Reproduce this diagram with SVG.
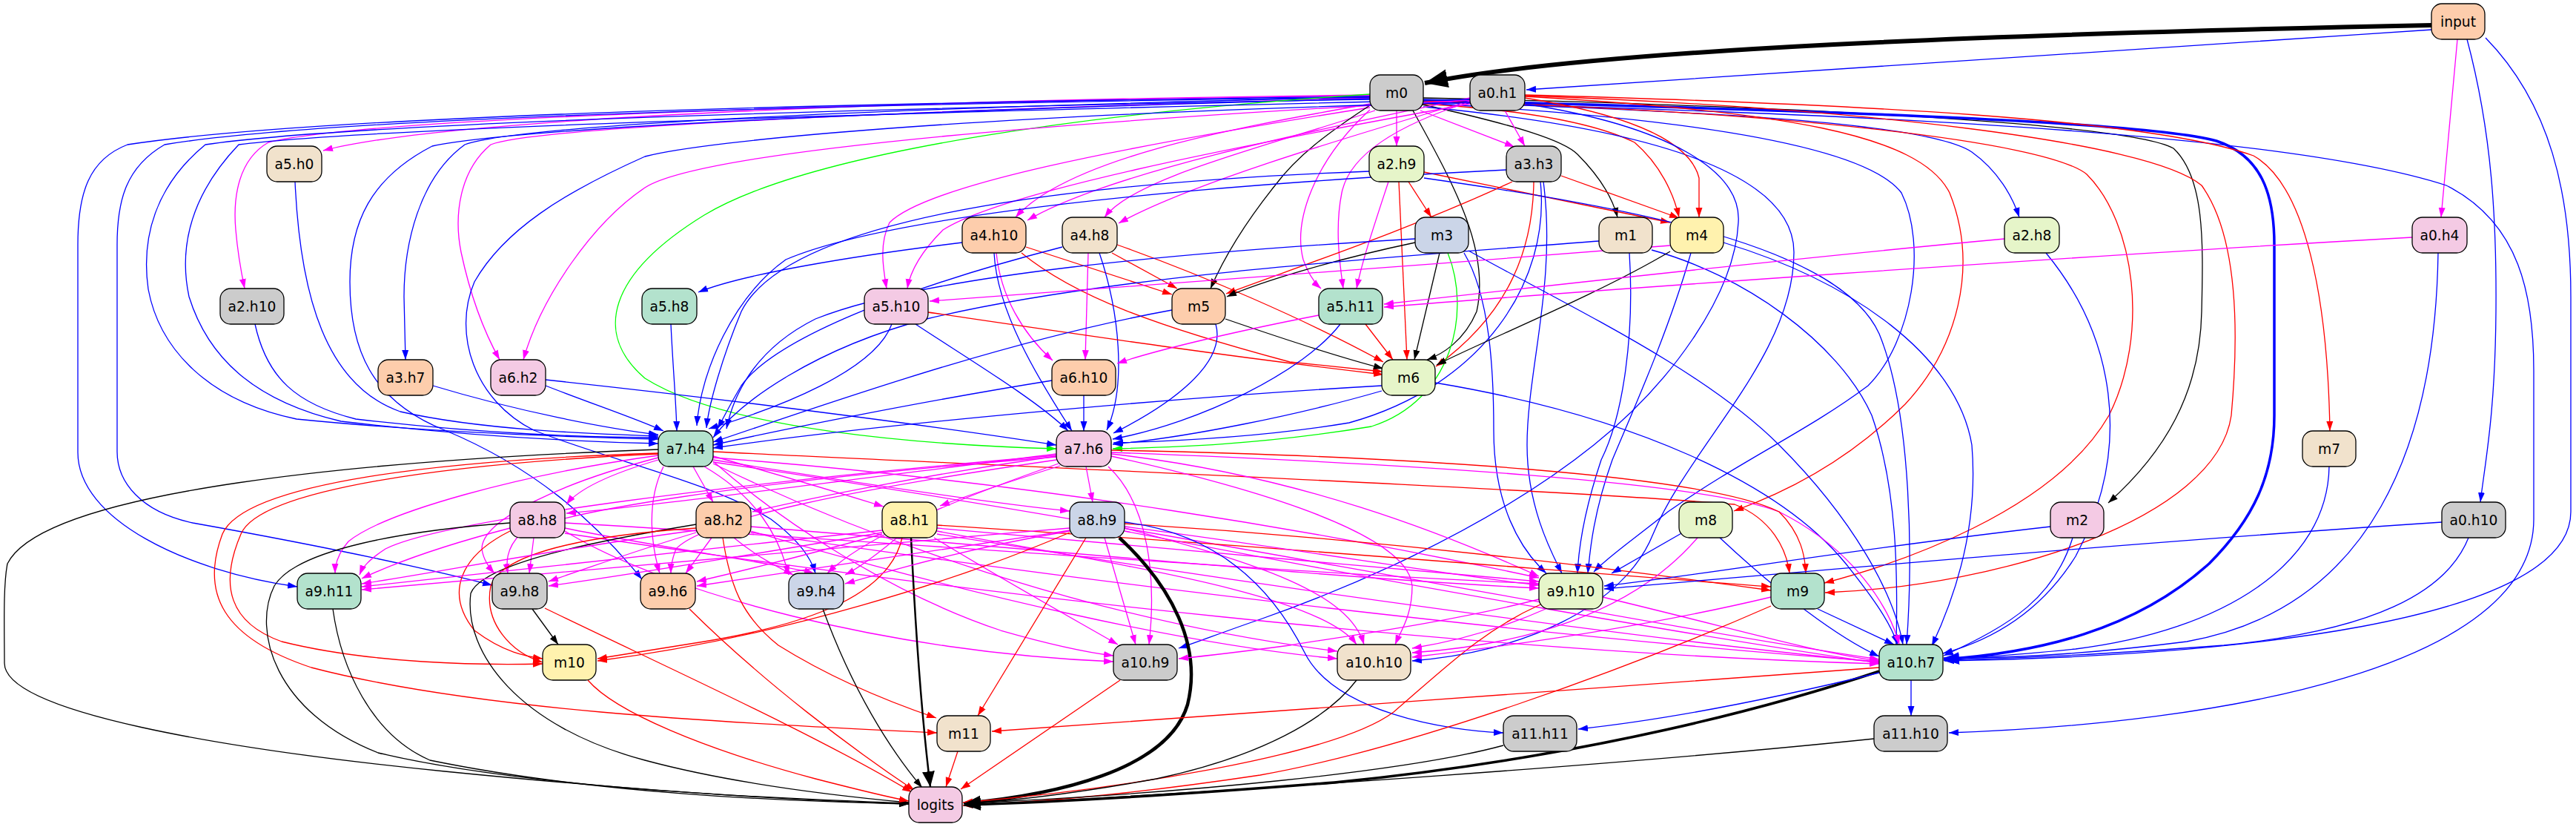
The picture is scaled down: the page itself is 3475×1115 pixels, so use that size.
<svg xmlns="http://www.w3.org/2000/svg" width="3475" height="1115" viewBox="0 0 3475 1115">
<defs>
<marker id="ak" markerUnits="userSpaceOnUse" markerWidth="14" markerHeight="10" refX="13" refY="5" orient="auto"><path d="M0,0.5 L13,5 L0,9.5 z" fill="#000"/></marker>
<marker id="ab" markerUnits="userSpaceOnUse" markerWidth="14" markerHeight="10" refX="13" refY="5" orient="auto"><path d="M0,0.5 L13,5 L0,9.5 z" fill="#00f"/></marker>
<marker id="ar" markerUnits="userSpaceOnUse" markerWidth="14" markerHeight="10" refX="13" refY="5" orient="auto"><path d="M0,0.5 L13,5 L0,9.5 z" fill="#f00"/></marker>
<marker id="am" markerUnits="userSpaceOnUse" markerWidth="14" markerHeight="10" refX="13" refY="5" orient="auto"><path d="M0,0.5 L13,5 L0,9.5 z" fill="#f0f"/></marker>
<marker id="ag" markerUnits="userSpaceOnUse" markerWidth="14" markerHeight="10" refX="13" refY="5" orient="auto"><path d="M0,0.5 L13,5 L0,9.5 z" fill="#0f0"/></marker>
<marker id="akM" markerUnits="userSpaceOnUse" markerWidth="22" markerHeight="18" refX="21" refY="9" orient="auto"><path d="M0,0.5 L21,9 L0,17.5 z" fill="#000"/></marker>
<marker id="akL" markerUnits="userSpaceOnUse" markerWidth="32" markerHeight="26" refX="31" refY="13" orient="auto"><path d="M0,0.5 L31,13 L0,25.5 z" fill="#000"/></marker>
<marker id="abM" markerUnits="userSpaceOnUse" markerWidth="22" markerHeight="18" refX="21" refY="9" orient="auto"><path d="M0,0.5 L21,9 L0,17.5 z" fill="#00f"/></marker>
</defs>
<style>
.e path{fill:none;stroke-width:1.3}
.k{stroke:#000;marker-end:url(#ak)}
.b{stroke:#00f;marker-end:url(#ab)}
.r{stroke:#f00;marker-end:url(#ar)}
.m{stroke:#f0f;marker-end:url(#am)}
.g{stroke:#0f0;marker-end:url(#ag)}
.e path.k6{stroke:#000;stroke-width:6;marker-end:url(#akL)}
.e path.k4{stroke:#000;stroke-width:4.5;marker-end:url(#akM)}
.e path.k3{stroke:#000;stroke-width:3.5;marker-end:url(#akM)}
.e path.k2{stroke:#000;stroke-width:2.5;marker-end:url(#akM)}
.e path.b3{stroke:#00f;stroke-width:3.5;marker-end:url(#abM)}
.n rect{stroke:#000;stroke-width:1.3}
.n text{font-family:"DejaVu Sans","Liberation Sans",sans-serif;font-size:18.67px;text-anchor:middle;fill:#000}
.gy{fill:#cccccc}.pe{fill:#fdcdac}.be{fill:#f1e2cc}.lg{fill:#e6f5c9}.bl{fill:#cbd5e8}.ye{fill:#fff2ae}.pk{fill:#f4cae4}.mi{fill:#b3e2cd}
</style>
<rect width="3475" height="1115" fill="#fff"/>
<g id="edges" class="e">
<path class="k6" d="M3280,34 C2700,46 2150,66 1922,112"/>
<path class="b" d="M3281,40 C2800,72 2300,108 2059,121"/>
<path class="m" d="M3315,53 L3293,293"/>
<path class="b" d="M3328,53 C3362,180 3368,300 3367,420 C3366,560 3352,625 3346,677"/>
<path class="b" d="M3353,51 C3440,140 3468,260 3468,400 L3468,690 C3468,840 3000,885 2623,891"/>
<path class="m" d="M1884,149 L1884,197"/>
<path class="m" d="M1916,149 L2043,198"/>
<path class="m" d="M1848,128 C1200,135 600,160 436,203"/>
<path class="m" d="M1848,129 C1200,138 500,158 362,192 C322,215 314,265 318,310 C321,345 326,370 330,389"/>
<path class="b" d="M1848,131 C1200,145 700,168 627,195 C565,240 545,330 545,400 L547,485"/>
<path class="m" d="M1848,132 C1200,150 720,172 662,195 C620,230 612,290 622,340 C638,415 660,460 674,485"/>
<path class="m" d="M1848,140 C1650,175 1440,215 1370,293"/>
<path class="m" d="M1855,149 C1700,200 1530,240 1490,293"/>
<path class="m" d="M1848,145 C1500,200 1250,250 1200,300 C1185,330 1192,365 1196,389"/>
<path class="m" d="M1848,148 C1770,220 1745,300 1758,350 C1766,372 1775,383 1782,389"/>
<path class="k" d="M1919,141 C2050,170 2110,190 2128,208 C2160,240 2176,270 2182,293"/>
<path class="r" d="M1920,140 C2050,148 2150,165 2205,192 C2240,222 2258,262 2265,293"/>
<path class="b" d="M1920,137 C2300,150 2600,165 2660,205 C2695,230 2715,265 2724,293"/>
<path class="k" d="M1848,142 C1790,180 1750,210 1720,250 C1680,300 1650,350 1633,389"/>
<path class="k" d="M1906,149 C1965,255 2010,340 1992,420 C1975,460 1945,478 1925,485"/>
<path class="b" d="M1848,134 C1200,145 480,165 277,195 C210,250 190,320 200,390 C215,470 280,540 400,565 C600,585 800,590 888,592"/>
<path class="b" d="M1848,130 C1000,140 400,160 172,195 C120,215 105,260 105,330 L105,610 C105,700 250,770 401,791"/>
<path class="b" d="M1848,131 C1000,142 420,162 222,195 C170,225 158,270 158,330 L158,609 C158,650 190,690 260,705 C400,730 550,760 664,789"/>
<path class="b" d="M1848,133 C1200,150 700,172 583,197 C500,240 472,300 472,380 C472,470 500,540 600,580 C720,630 800,700 866,781"/>
<path class="g" d="M1848,127 C1500,150 1100,200 950,290 C820,370 800,450 870,510 C980,580 1250,600 1425,605"/>
<path class="k" d="M1920,132 C2500,145 2880,170 2932,200 C2975,240 2972,330 2970,420 C2968,530 2920,610 2844,678"/>
<path class="b3" d="M1920,135 C2500,150 2900,165 2990,190 C3050,210 3068,260 3068,330 L3068,560 C3068,640 3040,700 2980,760 C2880,850 2750,880 2622,889"/>
<path class="b" d="M1920,138 C2600,155 3100,185 3300,250 C3400,300 3418,400 3418,500 L3418,700 C3418,900 3000,975 2629,988"/>
<path class="r" d="M1920,136 C2400,150 2760,190 2815,235 C2880,300 2900,450 2845,560 C2770,690 2560,760 2461,786"/>
<path class="b" d="M1920,139 C2300,160 2520,200 2565,260 C2600,330 2580,460 2520,520 C2440,580 2350,620 2250,690 C2200,730 2170,750 2150,771"/>
<path class="b" d="M1920,144 C2250,175 2420,240 2420,340 C2420,480 2280,600 2230,720 C2190,820 2050,880 1905,891"/>
<path class="m" d="M2030,149 L2057,197"/>
<path class="m" d="M1983,132 C1800,170 1500,230 1386,297"/>
<path class="m" d="M1983,136 C1800,190 1600,250 1509,301"/>
<path class="m" d="M1983,140 C1650,200 1350,260 1272,310 C1242,340 1228,365 1224,389"/>
<path class="m" d="M1984,137 C1880,170 1820,210 1810,260 C1800,310 1808,360 1812,389"/>
<path class="m" d="M1983,135 C1500,160 950,200 870,253 C800,300 730,400 706,485"/>
<path class="r" d="M2057,132 C2200,155 2280,190 2292,240 L2292,293"/>
<path class="b" d="M1983,134 C1300,150 520,170 322,195 C260,260 240,330 255,400 C280,480 340,540 460,568 C650,590 800,596 888,598"/>
<path class="b" d="M1983,138 C1300,155 950,190 870,211 C760,260 680,310 640,380 C610,450 640,540 720,580 C820,620 960,650 1040,700 C1080,730 1095,755 1100,773"/>
<path class="r" d="M2057,128 C2500,140 2900,160 3040,210 C3110,250 3140,400 3143,581"/>
<path class="r" d="M2057,130 C2400,150 2590,180 2630,260 C2670,360 2640,470 2570,545 C2500,615 2420,660 2339,689"/>
<path class="r" d="M2057,129 C2500,145 2900,190 2970,250 C3020,320 3020,450 3010,560 C2990,700 2700,790 2462,799"/>
<path class="b" d="M2057,140 C2250,170 2350,230 2345,300 C2340,400 2250,520 2150,600 C2000,720 1800,800 1700,835 C1650,852 1615,866 1590,874"/>
<path class="r" d="M1900,245 L1931,293"/>
<path class="r" d="M1921,232 L2253,300"/>
<path class="m" d="M1873,245 C1855,300 1838,350 1830,389"/>
<path class="r" d="M1887,245 L1898,485"/>
<path class="b" d="M1847,231 C1400,248 1060,300 1000,420 C975,480 956,545 953,577"/>
<path class="b" d="M1921,240 C2200,280 2480,330 2535,450 C2580,560 2580,760 2572,869"/>
<path class="r" d="M2106,237 L2265,294"/>
<path class="r" d="M2040,245 C1900,310 1750,360 1654,396"/>
<path class="r" d="M2069,245 C2068,330 2040,420 1937,494"/>
<path class="b" d="M2032,229 C1600,250 1200,290 1060,350 C990,400 945,500 940,574"/>
<path class="b" d="M2078,245 C2092,380 2000,520 1820,570 C1700,590 1580,595 1502,597"/>
<path class="b" d="M2082,245 C2100,380 2060,500 2060,600 C2060,680 2090,740 2107,773"/>
<path class="b" d="M1298,327 C1150,345 1000,370 942,394"/>
<path class="m" d="M1344,341 C1350,400 1380,450 1420,486"/>
<path class="r" d="M1384,333 L1581,397"/>
<path class="r" d="M1378,341 C1450,400 1560,440 1740,488 L1865,501"/>
<path class="b" d="M1341,341 C1345,420 1400,510 1446,581"/>
<path class="m" d="M1468,341 L1464,485"/>
<path class="r" d="M1500,341 L1588,389"/>
<path class="r" d="M1507,330 C1620,370 1760,430 1866,488"/>
<path class="b" d="M1433,333 C1250,380 1050,450 1000,520 C985,545 975,565 968,578"/>
<path class="b" d="M1483,341 C1510,420 1520,520 1493,580"/>
<path class="k" d="M1909,327 C1800,350 1700,380 1655,400"/>
<path class="k" d="M1942,341 L1908,485"/>
<path class="g" d="M1953,341 C1985,420 1960,540 1850,575 C1700,600 1580,603 1501,605"/>
<path class="b" d="M1909,322 C1600,340 1250,370 1100,430 C1020,470 990,530 980,578"/>
<path class="b" d="M1975,341 C2010,400 2015,500 2015,580 C2015,680 2050,740 2086,773"/>
<path class="b" d="M1981,338 C2130,420 2300,500 2400,600 C2500,700 2555,800 2567,869"/>
<path class="b" d="M2157,325 C1900,345 1500,370 1250,430 C1100,470 1000,540 962,590"/>
<path class="b" d="M2198,341 C2205,450 2190,560 2160,620 C2140,680 2130,730 2128,773"/>
<path class="b" d="M2228,337 C2350,370 2480,460 2525,560 C2560,660 2560,780 2558,869"/>
<path class="m" d="M2253,331 C1900,360 1450,390 1254,406"/>
<path class="k" d="M2253,339 C2150,400 2000,460 1938,492"/>
<path class="b" d="M2281,341 C2250,450 2200,560 2175,620 C2150,690 2145,740 2142,773"/>
<path class="b" d="M2325,327 C2500,380 2640,480 2660,600 C2670,720 2630,820 2606,871"/>
<path class="m" d="M2704,322 C2400,350 2000,395 1867,410"/>
<path class="b" d="M2760,341 C2850,450 2880,600 2800,750 C2750,830 2680,865 2621,881"/>
<path class="m" d="M3254,320 C2800,345 2100,395 1867,414"/>
<path class="b" d="M3289,341 C3285,600 3200,820 2950,865 C2800,884 2700,887 2622,888"/>
<path class="b" d="M398,245 C405,400 440,520 540,555 C650,580 800,585 888,588"/>
<path class="b" d="M344,437 C360,510 400,545 480,565 C650,585 800,590 888,590"/>
<path class="b" d="M905,437 C908,500 912,540 913,581"/>
<path class="b" d="M1203,437 C1180,500 1050,550 956,578"/>
<path class="r" d="M1252,421 C1450,450 1650,480 1866,505"/>
<path class="b" d="M1235,437 C1300,480 1400,540 1441,581"/>
<path class="k" d="M1653,430 C1740,460 1820,485 1866,497"/>
<path class="b" d="M1581,418 C1350,460 1100,550 962,596"/>
<path class="b" d="M1640,437 C1655,490 1580,545 1502,584"/>
<path class="m" d="M1779,425 C1650,450 1550,475 1507,490"/>
<path class="r" d="M1842,437 L1879,485"/>
<path class="b" d="M1808,437 C1760,500 1620,570 1501,592"/>
<path class="b" d="M584,520 C700,555 820,578 888,586"/>
<path class="b" d="M736,520 C800,545 860,565 895,581"/>
<path class="b" d="M736,512 C1000,540 1300,580 1425,600"/>
<path class="b" d="M1419,513 C1250,540 1050,580 962,600"/>
<path class="b" d="M1462,533 L1462,581"/>
<path class="b" d="M1864,520 C1600,535 1200,570 962,604"/>
<path class="b" d="M1864,527 C1750,560 1600,590 1501,599"/>
<path class="b" d="M1936,516 C2200,560 2400,650 2490,760 C2530,810 2550,840 2560,869"/>
<path class="k" d="M888,606 C500,620 60,660 10,760 C4,790 6,850 6,894 C6,960 300,1010 600,1040 C900,1070 1100,1080 1226,1084"/>
<path class="r" d="M888,612 C600,625 350,660 325,720 C295,790 310,840 380,865 C500,895 650,897 732,895"/>
<path class="r" d="M888,611 C600,620 330,650 300,720 C270,800 300,860 420,900 C650,960 1000,975 1264,988"/>
<path class="r" d="M962,609 C1400,630 2100,660 2340,680 C2390,700 2410,740 2414,773"/>
<path class="m" d="M888,620 C820,640 780,660 764,680"/>
<path class="m" d="M935,629 L962,677"/>
<path class="m" d="M962,615 C1050,640 1150,670 1192,683"/>
<path class="m" d="M962,620 C1150,650 1350,680 1443,689"/>
<path class="m" d="M888,614 C700,640 520,690 470,730 C457,745 452,760 452,773"/>
<path class="m" d="M888,617 C760,650 650,700 650,740 C652,755 660,765 667,773"/>
<path class="m" d="M895,629 C870,680 880,740 890,773"/>
<path class="m" d="M950,629 C1020,670 1050,720 1064,775"/>
<path class="m" d="M962,617 C1400,650 1800,720 2076,779"/>
<path class="m" d="M962,622 C1050,700 1200,800 1350,850 C1420,870 1470,880 1502,884"/>
<path class="m" d="M962,625 C1200,740 1500,840 1804,878"/>
<path class="m" d="M962,623 C1500,700 2200,840 2535,889"/>
<path class="m" d="M1425,612 C1200,640 900,680 764,692"/>
<path class="m" d="M1425,615 C1250,640 1100,670 1015,690"/>
<path class="m" d="M1430,628 C1360,650 1300,670 1268,682"/>
<path class="m" d="M1465,629 L1474,677"/>
<path class="m" d="M1425,614 C1000,650 600,700 520,740 C497,755 489,765 485,775"/>
<path class="m" d="M1425,616 C1000,650 750,690 702,720 C682,740 683,760 685,773"/>
<path class="m" d="M1425,620 C1150,660 950,700 912,740 C906,755 905,765 905,773"/>
<path class="m" d="M1428,625 C1300,670 1170,720 1116,773"/>
<path class="m" d="M1499,612 C1750,640 1950,720 2076,777"/>
<path class="m" d="M1495,629 C1550,680 1560,780 1550,869"/>
<path class="m" d="M1499,615 C1700,660 1900,720 1905,790 C1905,830 1890,850 1882,869"/>
<path class="m" d="M1499,610 C1900,625 2300,650 2400,690 C2500,740 2550,820 2562,869"/>
<path class="r" d="M1499,607 C1900,615 2300,640 2400,690 C2430,720 2435,750 2436,773"/>
<path class="b" d="M3142,629 C3140,760 3000,850 2800,875 C2700,885 2660,887 2622,887"/>
<path class="k" d="M688,705 C550,715 400,740 370,790 C340,850 370,960 510,1015 C700,1060 1000,1075 1226,1083"/>
<path class="r" d="M688,716 C620,750 600,800 640,850 C680,880 710,885 732,888"/>
<path class="m" d="M688,712 C600,735 530,760 488,780"/>
<path class="m" d="M720,725 L714,773"/>
<path class="m" d="M762,712 C900,740 1050,760 1098,773"/>
<path class="m" d="M762,705 C1200,730 1700,770 2076,787"/>
<path class="m" d="M762,716 C900,800 1200,880 1502,892"/>
<path class="m" d="M762,719 C1300,800 2000,880 2535,895"/>
<path class="k" d="M939,707 C800,730 650,760 635,800 C625,880 700,980 870,1025 C1000,1060 1150,1075 1226,1082"/>
<path class="r" d="M939,712 C820,720 680,740 662,790 C652,840 690,880 732,893"/>
<path class="r" d="M975,725 C985,790 1000,830 1050,870 C1130,920 1210,950 1263,968"/>
<path class="m" d="M939,715 C750,740 600,770 488,787"/>
<path class="m" d="M939,718 C850,745 780,770 740,784"/>
<path class="m" d="M960,725 L925,773"/>
<path class="m" d="M990,725 C1020,750 1050,765 1070,775"/>
<path class="m" d="M1013,710 C1400,740 1800,780 2076,793"/>
<path class="m" d="M1013,716 C1300,800 1600,870 1804,888"/>
<path class="m" d="M1013,718 C1500,790 2100,860 2535,892"/>
<path class="k2" d="M1229,725 C1235,850 1245,980 1255,1061"/>
<path class="r" d="M1217,725 C1200,800 1100,840 950,865 C880,876 840,883 806,888"/>
<path class="r" d="M1264,708 C1700,735 2100,770 2389,791"/>
<path class="m" d="M1190,715 C950,740 700,770 488,791"/>
<path class="m" d="M1190,718 C1000,750 850,775 740,790"/>
<path class="m" d="M1190,720 C1100,745 1000,770 940,784"/>
<path class="m" d="M1210,725 C1180,750 1160,765 1140,775"/>
<path class="m" d="M1264,712 C1600,740 1900,770 2076,784"/>
<path class="m" d="M1260,725 C1350,780 1440,830 1508,869"/>
<path class="m" d="M1264,716 C1500,760 1780,800 1830,869"/>
<path class="m" d="M1264,720 C1700,790 2200,860 2535,893"/>
<path class="k4" d="M1510,725 C1580,790 1622,870 1602,950 C1575,1040 1420,1072 1302,1083"/>
<path class="r" d="M1443,718 C1300,780 1050,860 806,891"/>
<path class="r" d="M1465,725 L1319,965"/>
<path class="r" d="M1517,706 C1900,730 2200,770 2389,796"/>
<path class="m" d="M1443,712 C1100,740 750,775 488,795"/>
<path class="m" d="M1443,715 C1250,745 1050,775 940,790"/>
<path class="m" d="M1443,716 C1300,740 1200,770 1140,787"/>
<path class="m" d="M1517,710 C1750,740 1950,775 2076,789"/>
<path class="m" d="M1490,725 L1532,869"/>
<path class="m" d="M1517,712 C1700,760 1820,800 1840,869"/>
<path class="m" d="M1517,716 C1900,790 2300,860 2535,894"/>
<path class="b" d="M1517,704 C1650,720 1720,800 1760,880 C1800,960 1950,985 2028,988"/>
<path class="b" d="M2270,718 L2174,773"/>
<path class="b" d="M2320,725 C2400,800 2480,860 2535,885"/>
<path class="m" d="M2290,725 C2200,830 2050,870 1905,880"/>
<path class="b" d="M2766,710 C2500,740 2300,775 2164,790"/>
<path class="b" d="M2796,725 C2771,805 2716,841 2622,884"/>
<path class="b" d="M3294,704 C2900,730 2500,765 2164,794"/>
<path class="b" d="M3330,725 C3300,800 3200,850 3000,870 C2800,885 2700,888 2622,890"/>
<path class="k" d="M449,821 C460,900 500,990 580,1025 C800,1070 1050,1080 1226,1084"/>
<path class="k" d="M718,821 L753,869"/>
<path class="r" d="M735,820 C900,900 1100,990 1230,1068"/>
<path class="r" d="M930,821 C1030,920 1150,1010 1234,1066"/>
<path class="k" d="M1110,821 C1150,930 1200,1010 1244,1062"/>
<path class="r" d="M2078,815 C2000,850 1950,900 1880,960 C1800,1020 1500,1065 1299,1082"/>
<path class="m" d="M2076,808 C1950,840 1800,860 1740,870 C1680,878 1630,884 1590,888"/>
<path class="m" d="M2085,821 C2020,850 1960,865 1905,874"/>
<path class="m" d="M2162,805 C2350,850 2450,880 2535,891"/>
<path class="b" d="M2452,821 L2555,869"/>
<path class="r" d="M2389,817 C2200,900 1900,1010 1700,1045 C1500,1075 1380,1082 1299,1086"/>
<path class="m" d="M2389,805 C2200,850 2000,875 1905,886"/>
<path class="r" d="M793,917 C830,960 950,1010 1100,1050 C1170,1068 1200,1075 1226,1080"/>
<path class="r" d="M1511,917 L1296,1064"/>
<path class="k" d="M1830,917 C1790,970 1700,1020 1560,1050 C1450,1070 1360,1080 1300,1084"/>
<path class="k3" d="M2535,905 C2400,950 2150,1020 1800,1055 C1550,1075 1400,1082 1302,1085"/>
<path class="r" d="M2535,900 C2200,925 1700,960 1338,986"/>
<path class="b" d="M2535,907 C2400,940 2250,970 2129,983"/>
<path class="b" d="M2578,917 L2578,965"/>
<path class="r" d="M1292,1013 L1276,1061"/>
<path class="k" d="M2028,1005 C1900,1040 1600,1070 1300,1083"/>
<path class="k" d="M2528,996 C2200,1030 1700,1065 1300,1086"/>
</g>
<g id="n-input" class="n"><rect class="pe" x="3280" y="5" width="72" height="48" rx="14"/><text x="3316" y="35.5">input</text></g>
<g id="n-m0" class="n"><rect class="gy" x="1848" y="101" width="72" height="48" rx="14"/><text x="1884" y="131.5">m0</text></g>
<g id="n-a0.h1" class="n"><rect class="gy" x="1983" y="101" width="74" height="48" rx="14"/><text x="2020" y="131.5">a0.h1</text></g>
<g id="n-a5.h0" class="n"><rect class="be" x="360" y="197" width="74" height="48" rx="14"/><text x="397" y="227.5">a5.h0</text></g>
<g id="n-a2.h9" class="n"><rect class="lg" x="1847" y="197" width="74" height="48" rx="14"/><text x="1884" y="227.5">a2.h9</text></g>
<g id="n-a3.h3" class="n"><rect class="gy" x="2032" y="197" width="74" height="48" rx="14"/><text x="2069" y="227.5">a3.h3</text></g>
<g id="n-a4.h10" class="n"><rect class="pe" x="1298" y="293" width="86" height="48" rx="14"/><text x="1341" y="323.5">a4.h10</text></g>
<g id="n-a4.h8" class="n"><rect class="be" x="1433" y="293" width="74" height="48" rx="14"/><text x="1470" y="323.5">a4.h8</text></g>
<g id="n-m3" class="n"><rect class="bl" x="1909" y="293" width="72" height="48" rx="14"/><text x="1945" y="323.5">m3</text></g>
<g id="n-m1" class="n"><rect class="be" x="2157" y="293" width="72" height="48" rx="14"/><text x="2193" y="323.5">m1</text></g>
<g id="n-m4" class="n"><rect class="ye" x="2253" y="293" width="72" height="48" rx="14"/><text x="2289" y="323.5">m4</text></g>
<g id="n-a2.h8" class="n"><rect class="lg" x="2704" y="293" width="74" height="48" rx="14"/><text x="2741" y="323.5">a2.h8</text></g>
<g id="n-a0.h4" class="n"><rect class="pk" x="3254" y="293" width="74" height="48" rx="14"/><text x="3291" y="323.5">a0.h4</text></g>
<g id="n-a2.h10" class="n"><rect class="gy" x="297" y="389" width="86" height="48" rx="14"/><text x="340" y="419.5">a2.h10</text></g>
<g id="n-a5.h8" class="n"><rect class="mi" x="866" y="389" width="74" height="48" rx="14"/><text x="903" y="419.5">a5.h8</text></g>
<g id="n-a5.h10" class="n"><rect class="pk" x="1166" y="389" width="86" height="48" rx="14"/><text x="1209" y="419.5">a5.h10</text></g>
<g id="n-m5" class="n"><rect class="pe" x="1581" y="389" width="72" height="48" rx="14"/><text x="1617" y="419.5">m5</text></g>
<g id="n-a5.h11" class="n"><rect class="mi" x="1779" y="389" width="86" height="48" rx="14"/><text x="1822" y="419.5">a5.h11</text></g>
<g id="n-a3.h7" class="n"><rect class="pe" x="510" y="485" width="74" height="48" rx="14"/><text x="547" y="515.5">a3.h7</text></g>
<g id="n-a6.h2" class="n"><rect class="pk" x="662" y="485" width="74" height="48" rx="14"/><text x="699" y="515.5">a6.h2</text></g>
<g id="n-a6.h10" class="n"><rect class="pe" x="1419" y="485" width="86" height="48" rx="14"/><text x="1462" y="515.5">a6.h10</text></g>
<g id="n-m6" class="n"><rect class="lg" x="1864" y="485" width="72" height="48" rx="14"/><text x="1900" y="515.5">m6</text></g>
<g id="n-a7.h4" class="n"><rect class="mi" x="888" y="581" width="74" height="48" rx="14"/><text x="925" y="611.5">a7.h4</text></g>
<g id="n-a7.h6" class="n"><rect class="pk" x="1425" y="581" width="74" height="48" rx="14"/><text x="1462" y="611.5">a7.h6</text></g>
<g id="n-m7" class="n"><rect class="be" x="3106" y="581" width="72" height="48" rx="14"/><text x="3142" y="611.5">m7</text></g>
<g id="n-a8.h8" class="n"><rect class="pk" x="688" y="677" width="74" height="48" rx="14"/><text x="725" y="707.5">a8.h8</text></g>
<g id="n-a8.h2" class="n"><rect class="pe" x="939" y="677" width="74" height="48" rx="14"/><text x="976" y="707.5">a8.h2</text></g>
<g id="n-a8.h1" class="n"><rect class="ye" x="1190" y="677" width="74" height="48" rx="14"/><text x="1227" y="707.5">a8.h1</text></g>
<g id="n-a8.h9" class="n"><rect class="bl" x="1443" y="677" width="74" height="48" rx="14"/><text x="1480" y="707.5">a8.h9</text></g>
<g id="n-m8" class="n"><rect class="lg" x="2265" y="677" width="72" height="48" rx="14"/><text x="2301" y="707.5">m8</text></g>
<g id="n-m2" class="n"><rect class="pk" x="2766" y="677" width="72" height="48" rx="14"/><text x="2802" y="707.5">m2</text></g>
<g id="n-a0.h10" class="n"><rect class="gy" x="3294" y="677" width="86" height="48" rx="14"/><text x="3337" y="707.5">a0.h10</text></g>
<g id="n-a9.h11" class="n"><rect class="mi" x="401" y="773" width="86" height="48" rx="14"/><text x="444" y="803.5">a9.h11</text></g>
<g id="n-a9.h8" class="n"><rect class="gy" x="664" y="773" width="74" height="48" rx="14"/><text x="701" y="803.5">a9.h8</text></g>
<g id="n-a9.h6" class="n"><rect class="pe" x="864" y="773" width="74" height="48" rx="14"/><text x="901" y="803.5">a9.h6</text></g>
<g id="n-a9.h4" class="n"><rect class="bl" x="1064" y="773" width="74" height="48" rx="14"/><text x="1101" y="803.5">a9.h4</text></g>
<g id="n-a9.h10" class="n"><rect class="lg" x="2076" y="773" width="86" height="48" rx="14"/><text x="2119" y="803.5">a9.h10</text></g>
<g id="n-m9" class="n"><rect class="mi" x="2389" y="773" width="72" height="48" rx="14"/><text x="2425" y="803.5">m9</text></g>
<g id="n-m10" class="n"><rect class="ye" x="732" y="869" width="72" height="48" rx="14"/><text x="768" y="899.5">m10</text></g>
<g id="n-a10.h9" class="n"><rect class="gy" x="1502" y="869" width="86" height="48" rx="14"/><text x="1545" y="899.5">a10.h9</text></g>
<g id="n-a10.h10" class="n"><rect class="be" x="1804" y="869" width="99" height="48" rx="14"/><text x="1853.5" y="899.5">a10.h10</text></g>
<g id="n-a10.h7" class="n"><rect class="mi" x="2535" y="869" width="86" height="48" rx="14"/><text x="2578" y="899.5">a10.h7</text></g>
<g id="n-m11" class="n"><rect class="be" x="1264" y="965" width="72" height="48" rx="14"/><text x="1300" y="995.5">m11</text></g>
<g id="n-a11.h11" class="n"><rect class="gy" x="2028" y="965" width="99" height="48" rx="14"/><text x="2077.5" y="995.5">a11.h11</text></g>
<g id="n-a11.h10" class="n"><rect class="gy" x="2528" y="965" width="99" height="48" rx="14"/><text x="2577.5" y="995.5">a11.h10</text></g>
<g id="n-logits" class="n"><rect class="pk" x="1226" y="1061" width="72" height="48" rx="14"/><text x="1262" y="1091.5">logits</text></g>
</svg>
